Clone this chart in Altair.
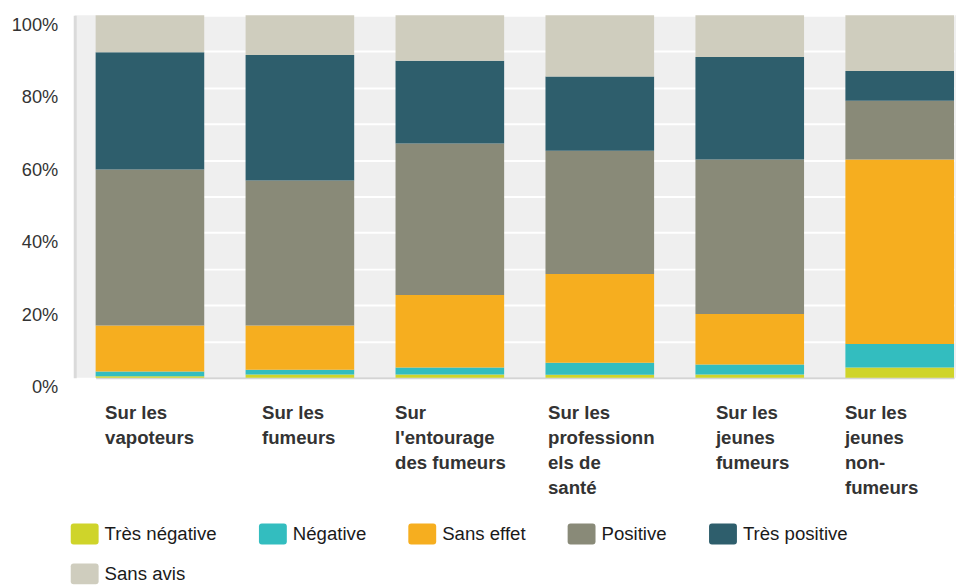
import json
import altair as alt
import pandas as pd

categories = [
    "Sur les vapoteurs",
    "Sur les fumeurs",
    "Sur l'entourage des fumeurs",
    "Sur les professionnels de santé",
    "Sur les jeunes fumeurs",
    "Sur les jeunes non-fumeurs",
]
label_lines = [
    ["Sur les", "vapoteurs"],
    ["Sur les", "fumeurs"],
    ["Sur", "l'entourage", "des fumeurs"],
    ["Sur les", "professionn", "els de", "santé"],
    ["Sur les", "jeunes", "fumeurs"],
    ["Sur les", "jeunes", "non-", "fumeurs"],
]
label_shift = [-45, -38, -55, -52, -34, -55]

responses = ["Très négative", "Négative", "Sans effet", "Positive", "Très positive", "Sans avis"]
colors = ["#cfd42a", "#33bdbf", "#f6ae1f", "#898a78", "#2e5e6c", "#cfcdbe"]

tres_negative = [0.4, 0.9, 0.9, 0.8, 0.9, 2.8]
negative = [1.3, 1.3, 1.9, 3.3, 2.7, 6.5]
sans_effet = [12.7, 12.2, 20.0, 24.5, 14.0, 50.9]
positive = [43.0, 40.0, 41.8, 34.0, 42.6, 16.2]
tres_positive = [32.4, 34.6, 22.8, 20.5, 28.3, 8.2]
sans_avis = [10.2, 11.0, 12.6, 16.9, 11.5, 15.4]

series = [tres_negative, negative, sans_effet, positive, tres_positive, sans_avis]
rows = []
for k, (resp, vals) in enumerate(zip(responses, series)):
    for cat, v in zip(categories, vals):
        rows.append({"categorie": cat, "reponse": resp, "ordre": k, "part": v / 100})
df = pd.DataFrame(rows)

FONT = "Liberation Sans, Arial, Helvetica, sans-serif"

# multi-line labels
expr = "''"
for cat, lines in reversed(list(zip(categories, label_lines))):
    expr = f"datum.value == {json.dumps(cat, ensure_ascii=False)} ? {json.dumps(lines, ensure_ascii=False)} : ({expr})"

offset_cond = {
    "condition": [
        {"test": f"datum.value == {json.dumps(cat, ensure_ascii=False)}", "value": s}
        for cat, s in zip(categories, label_shift)
    ],
    "value": 0,
}

legend_shape = ("M-0.79,-0.75 H0.79 Q1,-0.75 1,-0.54 V0.54 Q1,0.75 0.79,0.75 "
                "H-0.79 Q-1,0.75 -1,0.54 V-0.54 Q-1,-0.75 -0.79,-0.75 Z")

chart = alt.Chart(df).mark_bar().encode(
    x=alt.X(
        "categorie:N",
        sort=categories,
        scale=alt.Scale(range=[21, 883], paddingInner=0.2757, paddingOuter=0),
        axis=alt.Axis(
            title=None,
            labelAngle=0,
            labelAlign="left",
            labelBaseline="top",
            labelExpr=expr,
            labelOffset=offset_cond,
            labelFont=FONT,
            labelFontWeight="bold",
            labelFontSize=18.7,
            labelLineHeight=25,
            labelPadding=26,
            labelColor="#333333",
            labelLimit=0,
            labelOverlap=False,
            ticks=False,
            grid=False,
            domainColor="#d4d4d4",
            domainWidth=2,
        ),
    ),
    y=alt.Y(
        "part:Q",
        stack="zero",
        scale=alt.Scale(domain=[0, 1], nice=False),
        axis=alt.Axis(
            title=None,
            values=[i / 10 for i in range(11)],
            format=".0%",
            labelExpr="round(datum.value * 100) % 20 == 0 ? datum.label : ''",
            labelFont=FONT,
            labelFontSize=18.3,
            labelColor="#333333",
            labelPadding=17,
            labelOffset=10,
            labelBaseline="middle",
            ticks=False,
            grid=True,
            gridColor="#ffffff",
            gridWidth=2,
            domainColor="#dadada",
            domainWidth=3,
        ),
    ),
    color=alt.Color(
        "reponse:N",
        scale=alt.Scale(domain=responses, range=colors),
        legend=alt.Legend(
            title=None,
            orient="none",
            legendX=-4,
            legendY=507,
            direction="horizontal",
            columns=5,
            gridAlign="none",
            symbolType=legend_shape,
            symbolSize=784,
            symbolStrokeWidth=0,
            symbolOpacity=1,
            labelFont=FONT,
            labelFontSize=18.7,
            labelColor="#1a1a1a",
            labelOffset=6,
            labelLimit=0,
            columnPadding=42,
            rowPadding=15,
            padding=0,
        ),
    ),
    order=alt.Order("ordre:Q"),
).properties(
    width=885,
    height=364,
    padding={"left": 67, "top": 6, "right": 0, "bottom": 214},
    autosize=alt.AutoSizeParams(type="none"),
).configure_view(
    fill="#efefef",
    strokeWidth=0,
)

chart.save("out.html", embed_options={"renderer": "svg", "actions": False})
